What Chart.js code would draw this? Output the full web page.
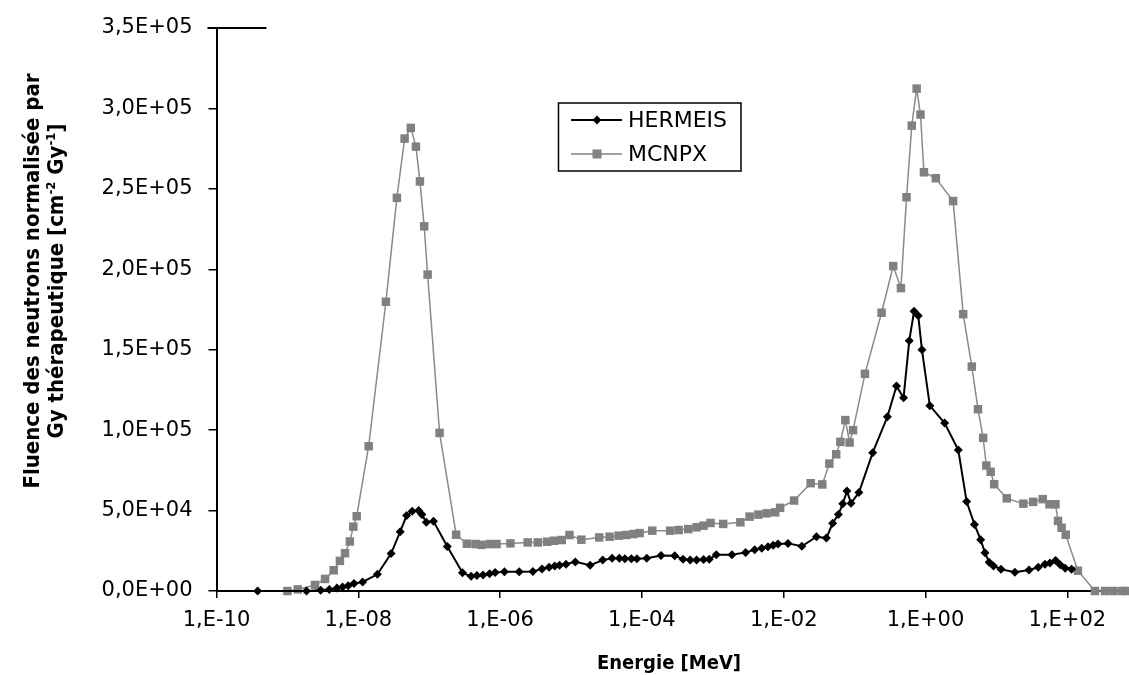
<!DOCTYPE html>
<html>
<head>
<meta charset="utf-8">
<title>Fluence des neutrons</title>
<script src="https://cdn.jsdelivr.net/npm/chart.js@4"></script>
<style>
  html, body { margin: 0; padding: 0; background: #fff; }
  #wrap { width: 1129px; height: 675px; position: relative; }
</style>
</head>
<body>
<div id="wrap"><canvas id="fluenceChart"></canvas></div>
<script>
// Energies in MeV, fluence in cm-2 Gy-1
const hermeisEnergy = [
  3.8e-10, 1.86e-9, 2.95e-9, 3.9e-9, 5.0e-9, 6.0e-9, 7.2e-9, 8.7e-9, 1.15e-8, 1.86e-8,
  2.9e-8, 3.9e-8, 4.8e-8, 5.75e-8, 7.1e-8, 7.9e-8, 9.1e-8, 1.15e-7, 1.8e-7, 2.95e-7,
  3.9e-7, 4.7e-7, 5.75e-7, 7.1e-7, 8.5e-7, 1.15e-6, 1.86e-6, 2.9e-6, 3.9e-6, 4.9e-6,
  5.9e-6, 6.9e-6, 8.5e-6, 1.15e-5, 1.86e-5, 2.8e-5, 3.8e-5, 4.8e-5, 5.75e-5, 7.1e-5,
  8.5e-5, 1.17e-4, 1.86e-4, 2.9e-4, 3.8e-4, 4.8e-4, 5.9e-4, 7.4e-4, 8.9e-4, 1.12e-3,
  1.86e-3, 2.9e-3, 3.9e-3, 4.9e-3, 6.0e-3, 7.1e-3, 8.3e-3, 1.15e-2, 1.8e-2, 2.9e-2,
  4.0e-2, 4.9e-2, 5.9e-2, 6.8e-2, 7.8e-2, 8.9e-2, 1.15e-1, 1.8e-1, 2.9e-1, 3.9e-1,
  4.9e-1, 5.9e-1, 6.9e-1, 7.9e-1, 8.9e-1, 1.15, 1.86, 2.9, 3.8, 4.9,
  6.0, 6.9, 7.9, 9.1, 11.6, 18.2, 28.8, 38.9, 48.4, 56.9,
  68.4, 79.4, 93.3, 114.8
];
const hermeisFluence = [
  0, 0, 400, 1000, 1900, 2500, 3300, 4600, 5600, 10400,
  23300, 36900, 46900, 49600, 50000, 47500, 42700, 43300, 27700, 11300,
  9100, 9600, 10000, 10800, 11500, 11900, 11900, 12100, 13750, 14800,
  15600, 16000, 16700, 18100, 16000, 19200, 20400, 20400, 20000, 20000,
  20000, 20400, 22000, 21900, 19800, 19200, 19200, 19600, 19800, 22500,
  22500, 24000, 25600, 26500, 27500, 28500, 29200, 29600, 27800, 33750,
  32900, 42100, 47500, 54200, 62100, 54600, 61250, 86000, 108300, 127500,
  120100, 155600, 173900, 171100, 150000, 115200, 104400, 87600, 55600, 41400,
  31800, 23800, 17800, 15600, 13500, 11600, 13100, 14800, 16700, 17400,
  18900, 16300, 14100, 13500
];

const mcnpxEnergy = [
  1.0e-9, 1.4e-9, 2.45e-9, 3.4e-9, 4.5e-9, 5.5e-9, 6.5e-9, 7.6e-9, 8.5e-9, 9.5e-9,
  1.4e-8, 2.45e-8, 3.5e-8, 4.5e-8, 5.5e-8, 6.5e-8, 7.4e-8, 8.5e-8, 9.5e-8, 1.4e-7,
  2.4e-7, 3.4e-7, 4.5e-7, 5.5e-7, 7.2e-7, 8.9e-7, 1.4e-6, 2.45e-6, 3.4e-6, 4.6e-6,
  5.75e-6, 7.4e-6, 9.5e-6, 1.4e-5, 2.5e-5, 3.5e-5, 4.7e-5, 6.0e-5, 7.6e-5, 9.3e-5,
  1.4e-4, 2.5e-4, 3.3e-4, 4.5e-4, 5.9e-4, 7.4e-4, 9.3e-4, 1.4e-3, 2.45e-3, 3.3e-3,
  4.4e-3, 5.75e-3, 7.6e-3, 8.9e-3, 1.4e-2, 2.4e-2, 3.5e-2, 4.4e-2, 5.5e-2, 6.3e-2,
  7.4e-2, 8.5e-2, 9.5e-2, 1.4e-1, 2.4e-1, 3.5e-1, 4.5e-1, 5.4e-1, 6.4e-1, 7.5e-1,
  8.5e-1, 9.5e-1, 1.4, 2.45, 3.4, 4.5, 5.5, 6.5, 7.2, 8.3,
  9.3, 14, 24, 33, 45, 56, 68, 74, 83, 95,
  141, 245, 339, 447, 589, 700
];
const mcnpxFluence = [
  0, 1000, 3750, 7500, 12900, 18750, 23500, 30800, 40000, 46500,
  90000, 179800, 244400, 281250, 287900, 276250, 254600, 226700, 196700, 98300,
  35000, 29400, 29200, 28700, 29200, 29200, 29600, 30200, 30200, 30600,
  31250, 31700, 34800, 31900, 33300, 33750, 34400, 34800, 35400, 36000,
  37500, 37500, 37900, 38500, 39600, 40600, 42300, 41700, 42700, 46250,
  47500, 48300, 48900, 51700, 56250, 67000, 66250, 79200, 85000, 92700,
  106250, 92300, 100000, 135000, 173000, 202000, 188300, 244800, 289300, 312300,
  296200, 260300, 256600, 242400, 172100, 139500, 113000, 95200, 78000, 74100,
  66400, 57600, 54300, 55400, 57100, 53900, 53900, 43600, 39300, 35000,
  12600, 0, 0, 0, 0, 0
];

const seriesNames = ['HERMEIS', 'MCNPX'];
const xTickValues = [1e-10, 1e-8, 1e-6, 1e-4, 1e-2, 1, 1e2];
const xTickLabels = ['1,E-10', '1,E-08', '1,E-06', '1,E-04', '1,E-02', '1,E+00', '1,E+02'];
const yTickLabels = ['0,0E+00', '5,0E+04', '1,0E+05', '1,5E+05', '2,0E+05', '2,5E+05', '3,0E+05', '3,5E+05'];

const GRAY = '#808080';
const TICK_FONT = { family: 'DejaVu Sans', size: 21 };
const TITLE_FAMILY = '"DejaVu Sans Condensed", "DejaVu Sans"';

function toPoints(xs, ys) {
  return xs.map((x, i) => ({ x: x, y: ys[i] }));
}

// draws titles, legend box and the little top line
const decorPlugin = {
  id: 'decor',
  afterDraw(chart) {
    const ctx = chart.ctx;
    const area = chart.chartArea;
    ctx.save();

    // short line at the top of the value axis
    ctx.strokeStyle = '#000';
    ctx.lineWidth = 2;
    ctx.beginPath();
    ctx.moveTo(area.left - 9, area.top);
    ctx.lineTo(area.left + 50, area.top);
    ctx.stroke();

    // x title
    ctx.fillStyle = '#000';
    ctx.font = 'bold 20px ' + TITLE_FAMILY;
    ctx.textAlign = 'center';
    ctx.textBaseline = 'alphabetic';
    ctx.fillText('Energie [MeV]', 669, 669);

    // y title, two lines rotated
    ctx.save();
    ctx.translate(39, 281);
    ctx.rotate(-Math.PI / 2);
    const big = 'bold 22px ' + TITLE_FAMILY;
    const small = 'bold 13px ' + TITLE_FAMILY;
    ctx.font = big;
    ctx.fillText('Fluence des neutrons normalisée par', 0, 0);
    const parts = [
      ['Gy thérapeutique [cm', big, 0],
      ['-2', small, -8],
      [' Gy', big, 0],
      ['-1', small, -8],
      [']', big, 0]
    ];
    let total = 0;
    parts.forEach(p => { ctx.font = p[1]; total += ctx.measureText(p[0]).width; });
    let px = -total / 2;
    ctx.textAlign = 'left';
    parts.forEach(p => {
      ctx.font = p[1];
      ctx.fillText(p[0], px, 24 + p[2]);
      px += ctx.measureText(p[0]).width;
    });
    ctx.restore();

    // legend
    ctx.strokeStyle = '#000';
    ctx.lineWidth = 1.5;
    ctx.strokeRect(558.5, 103, 182.5, 68);
    ctx.font = '22px "DejaVu Sans"';
    ctx.textAlign = 'left';
    ctx.textBaseline = 'middle';
    const rows = [
      { y: 120, color: '#000', lw: 2, style: 'diamond' },
      { y: 154, color: GRAY, lw: 1.5, style: 'square' }
    ];
    rows.forEach((r, i) => {
      ctx.strokeStyle = r.color;
      ctx.lineWidth = r.lw;
      ctx.beginPath();
      ctx.moveTo(571, r.y);
      ctx.lineTo(622, r.y);
      ctx.stroke();
      ctx.fillStyle = r.color;
      ctx.beginPath();
      if (r.style === 'diamond') {
        ctx.moveTo(597, r.y - 4.5);
        ctx.lineTo(601.5, r.y);
        ctx.lineTo(597, r.y + 4.5);
        ctx.lineTo(592.5, r.y);
        ctx.closePath();
      } else {
        ctx.rect(592.5, r.y - 4.5, 9, 9);
      }
      ctx.fill();
      ctx.fillStyle = '#000';
      ctx.fillText(seriesNames[i], 628, r.y + 1);
    });

    ctx.restore();
  }
};

new Chart(document.getElementById('fluenceChart'), {
  type: 'line',
  data: {
    datasets: [{
      label: seriesNames[0],
      data: toPoints(hermeisEnergy, hermeisFluence),
      borderColor: '#000',
      backgroundColor: '#000',
      borderWidth: 2,
      pointStyle: 'rectRot',
      pointRadius: 4.5,
      pointBorderWidth: 0,
      pointBackgroundColor: '#000',
      tension: 0
    }, {
      label: seriesNames[1],
      data: toPoints(mcnpxEnergy, mcnpxFluence),
      borderColor: '#8a8a8a',
      backgroundColor: GRAY,
      borderWidth: 1.5,
      pointStyle: 'rect',
      pointRadius: 6,
      pointBorderWidth: 0,
      pointBackgroundColor: GRAY,
      tension: 0
    }]
  },
  options: {
    responsive: true,
    maintainAspectRatio: false,
    animation: false,
    clip: false,
    layout: { autoPadding: false, padding: { top: 28, right: 0, left: 0, bottom: 0 } },
    plugins: {
      legend: { display: false },
      tooltip: { enabled: false }
    },
    scales: {
      x: {
        type: 'logarithmic',
        position: 'bottom',
        bounds: 'data',
        min: 1e-10,
        max: Math.pow(10, 2.87),
        afterBuildTicks: function(scale) {
          scale.ticks = xTickValues.map(v => ({ value: v }));
        },
        afterFit: function(scale) {
          scale.height = 84;
          scale.paddingLeft = 0;
          scale.paddingRight = 0;
        },
        border: { display: true, color: '#000', width: 2 },
        grid: { display: true, drawOnChartArea: false, drawTicks: true, tickLength: 7, color: '#000', lineWidth: 1.5 },
        ticks: {
          color: '#000',
          font: TICK_FONT,
          padding: 10,
          maxRotation: 0,
          autoSkip: false,
          callback: function(value, index) { return xTickLabels[index]; }
        }
      },
      y: {
        type: 'linear',
        min: 0,
        max: 350000,
        afterFit: function(scale) {
          scale.width = 216.5;
          scale.paddingTop = 0;
          scale.paddingBottom = 0;
        },
        border: { display: true, color: '#000', width: 2 },
        grid: { display: true, drawOnChartArea: false, drawTicks: true, tickLength: 8, color: '#000', lineWidth: 1.5 },
        ticks: {
          stepSize: 50000,
          color: '#000',
          font: TICK_FONT,
          padding: 16,
          callback: function(value, index) { return yTickLabels[index]; }
        }
      }
    }
  },
  plugins: [decorPlugin]
});
</script>
</body>
</html>
